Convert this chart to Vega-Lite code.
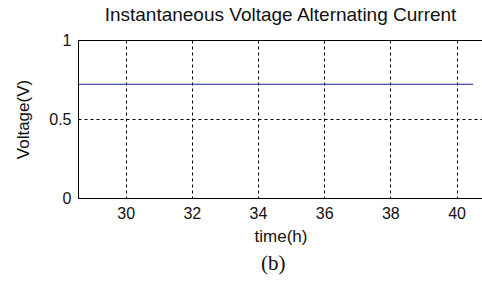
{
  "$schema": "https://vega.github.io/schema/vega-lite/v6.json",
  "width": 405,
  "height": 158,
  "autosize": {"type": "none"},
  "padding": {"left": 78, "top": 40, "right": 0, "bottom": 84},
  "background": "white",
  "title": {
    "text": "Instantaneous Voltage Alternating Current",
    "font": "Liberation Sans",
    "fontSize": 19,
    "fontWeight": "normal",
    "color": "#111111",
    "anchor": "middle",
    "offset": 7
  },
  "config": {
    "view": {"stroke": "#000000", "strokeWidth": 1},
    "axis": {
      "labelFont": "Liberation Sans",
      "titleFont": "Liberation Sans",
      "labelFontSize": 16,
      "titleFontSize": 17,
      "titleFontWeight": "normal",
      "labelColor": "#111111",
      "titleColor": "#111111",
      "domainColor": "#000000",
      "domainWidth": 1,
      "tickSize": 0,
      "grid": true,
      "gridColor": "#000000",
      "gridOpacity": 1,
      "gridDash": [3, 3],
      "gridWidth": 1
    }
  },
  "layer": [
    {
      "data": {"values": [
        {"time": 28.56, "voltage": 0.72},
        {"time": 40.5, "voltage": 0.72}
      ]},
      "mark": {"type": "line", "color": "#1c1ca0", "strokeWidth": 1.2},
      "encoding": {
        "x": {
          "field": "time",
          "type": "quantitative",
          "scale": {"domain": [28.56, 40.8], "nice": false, "zero": false},
          "axis": {"title": "time(h)", "values": [30, 32, 34, 36, 38, 40], "labelPadding": 7, "titlePadding": 7}
        },
        "y": {
          "field": "voltage",
          "type": "quantitative",
          "scale": {"domain": [0, 1], "nice": false},
          "axis": {"title": "Voltage(V)", "values": [0, 0.5, 1], "format": "~g", "labelPadding": 7, "titlePadding": 16, "labelFlush": false}
        }
      }
    },
    {
      "data": {"values": [{"label": "(b)"}]},
      "mark": {"type": "text", "font": "Liberation Serif", "fontSize": 21, "color": "#111111", "baseline": "middle", "align": "center", "clip": false},
      "encoding": {
        "x": {"datum": 34.46, "type": "quantitative"},
        "y": {"datum": -0.418, "type": "quantitative"},
        "text": {"field": "label"}
      }
    }
  ]
}
